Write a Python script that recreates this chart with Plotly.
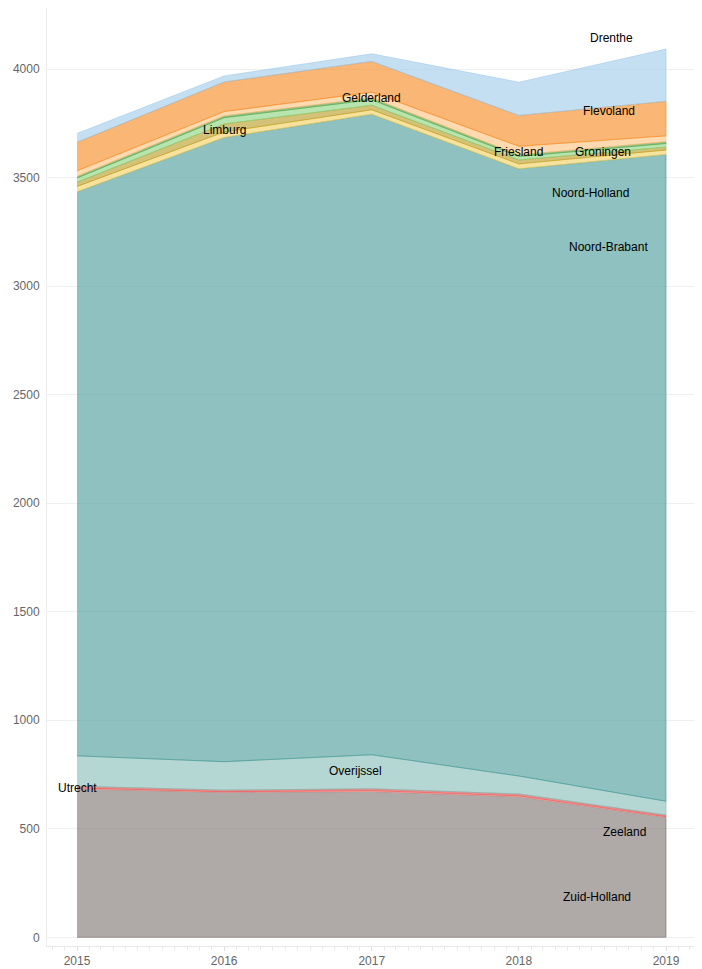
import numpy as np
import pandas as pd
import plotly.graph_objects as go

# ---- data ----
years = [2015, 2016, 2017, 2018, 2019]
provinces = ["Zuid-Holland", "Zeeland", "Utrecht", "Overijssel", "Noord-Holland",
             "Noord-Brabant", "Limburg", "Groningen", "Gelderland", "Friesland",
             "Flevoland", "Drenthe"]  # stacking order, bottom to top

zuid_holland = [684, 668, 672, 648, 553]
zeeland = [4, 3, 4, 4, 3]
utrecht = [8, 7, 8, 8, 7]
overijssel = [140, 131, 157, 83, 64]
noord_holland = [2598, 2875, 2951, 2797, 2979]
noord_brabant = [25, 26, 20, 23, 21]
limburg = [19, 37, 21, 18, 13]
groningen = [20, 29, 25, 16, 17]
gelderland = [7, 8, 8, 7, 8]
friesland = [26, 20, 27, 40, 27]
flevoland = [131, 136, 142, 142, 159]
drenthe = [41, 28, 35, 153, 241]

series = [zuid_holland, zeeland, utrecht, overijssel, noord_holland, noord_brabant,
          limburg, groningen, gelderland, friesland, flevoland, drenthe]

colors = ["#79706e", "#ff9d98", "#e45756", "#83bcb6", "#439894", "#f2cf5b",
          "#b79a20", "#88d27a", "#54a24b", "#ffbf79", "#f58518", "#9ecae9"]

# label positions (fractional year, value)
label_x = [2018.53, 2018.72, 2015.0, 2016.89, 2018.49, 2018.61,
           2016.0, 2018.57, 2017.0, 2018.0, 2018.61, 2018.63]
label_y = [184, 483, 690, 764, 3429, 3181,
           3719, 3618, 3866, 3618, 3807, 4143]

y_ticks = [0, 500, 1000, 1500, 2000, 2500, 3000, 3500, 4000]


def to_date(fy):
    y = int(np.floor(fy))
    start = pd.Timestamp(year=y, month=1, day=1)
    end = pd.Timestamp(year=y + 1, month=1, day=1)
    return start + (end - start) * (fy - y)


def rgba(hexc, a):
    h = hexc.lstrip("#")
    r, g, b = int(h[0:2], 16), int(h[2:4], 16), int(h[4:6], 16)
    return f"rgba({r},{g},{b},{a})"


dates = [pd.Timestamp(year=y, month=1, day=1) for y in years]

fig = go.Figure()
lower = np.zeros(len(years))
for name, vals, col in zip(provinces, series, colors):
    upper = lower + np.array(vals, dtype=float)
    xs = dates + dates[::-1]
    ys = list(upper) + list(lower[::-1])
    fig.add_trace(go.Scatter(
        x=xs, y=ys, mode="lines", fill="toself", name=name,
        fillcolor=rgba(col, 0.6),
        line=dict(color=rgba(col, 0.6), width=1),
        hoveron="fills", showlegend=False,
    ))
    lower = upper

for name, lx, ly in zip(provinces, label_x, label_y):
    fig.add_annotation(x=to_date(lx), y=ly, text=name, showarrow=False,
                       font=dict(family="Liberation Sans, Arial, sans-serif",
                                 size=12, color="#000000"))

fig.update_layout(
    width=694, height=961,
    margin=dict(l=39, r=7, t=0, b=23, autoexpand=False),
    paper_bgcolor="white", plot_bgcolor="white",
    font=dict(family="Liberation Sans, Arial, sans-serif", size=12, color="#666666"),
    showlegend=False,
)
fig.update_xaxes(
    type="date", automargin=False,
    range=[to_date(2014.796), to_date(2019.197)],
    tickvals=dates, ticktext=[str(y) for y in years],
    showgrid=False, zeroline=False,
    showline=True, linecolor="#e8e8e8", linewidth=1,
    ticks="outside", ticklen=4, tickcolor="#e0e0e0",
    minor=dict(ticks="outside", dtick="M1", ticklen=3, tickcolor="#e8e8e8", showgrid=False),
    tickfont=dict(size=12, color="#666666"),
)
fig.update_yaxes(
    automargin=False,
    range=[-40, 4281],
    tickvals=y_ticks,
    showgrid=True, gridcolor="#efefef", gridwidth=1,
    zeroline=False,
    showline=True, linecolor="#ececec", linewidth=1,
    ticks="", ticklabelstandoff=4,
    tickfont=dict(size=12, color="#666666"),
)

fig.write_html("out.html")
